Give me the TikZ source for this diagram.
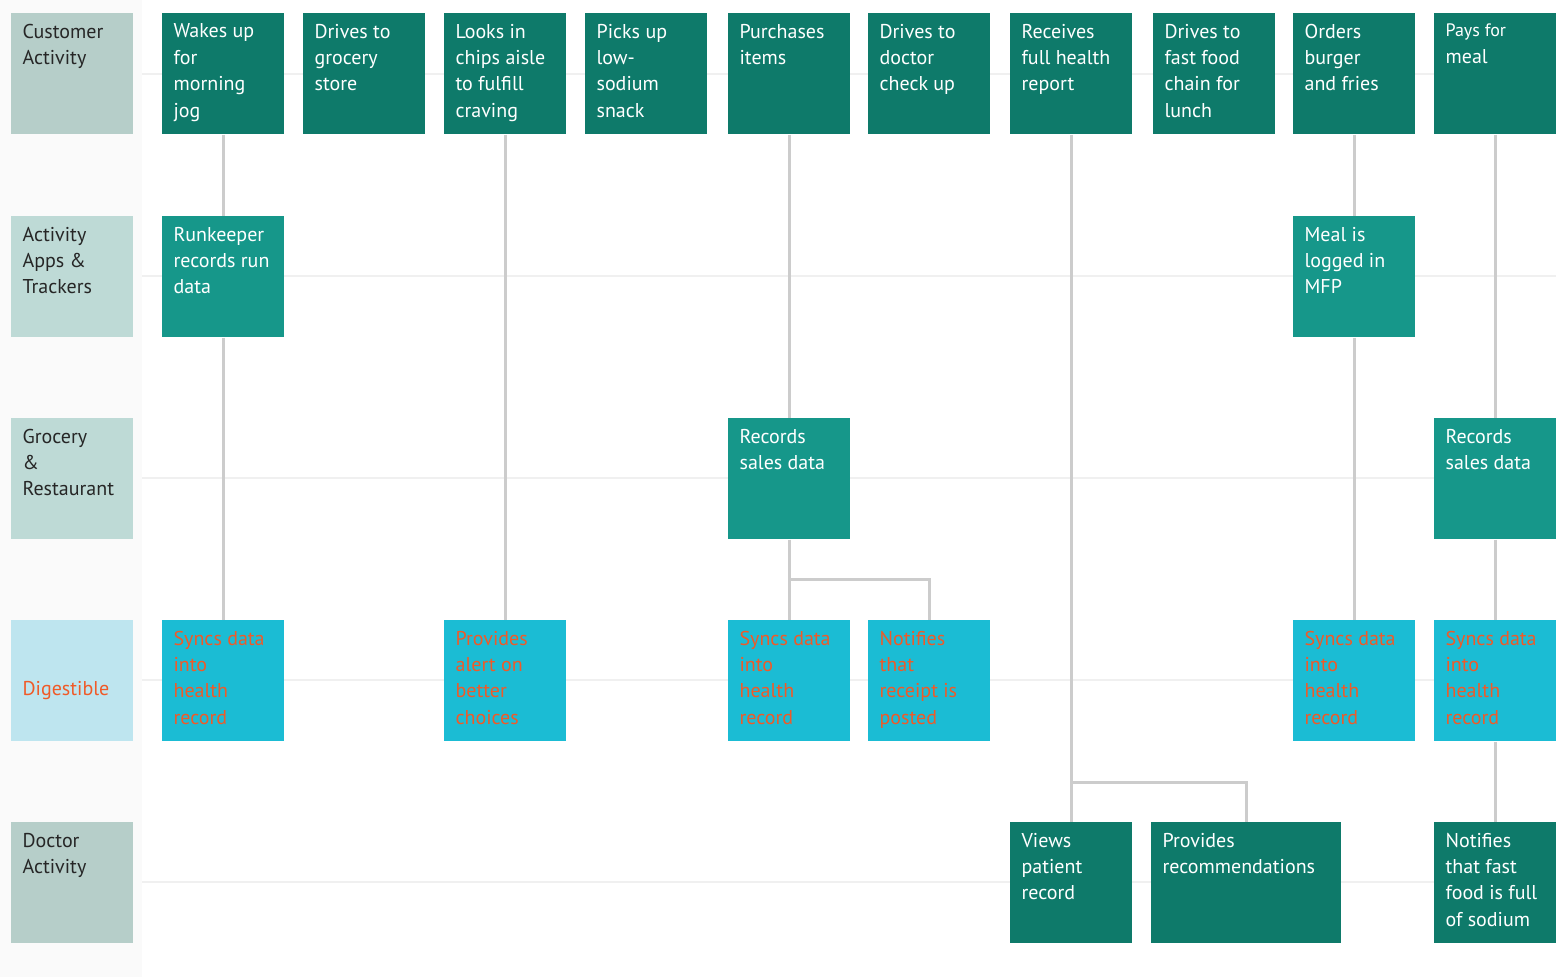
\documentclass[tikz,border=0pt]{standalone}
\usepackage{fontspec}
\setmainfont{PT Sans}
\usetikzlibrary{positioning}
\definecolor{darkteal}{HTML}{0E7A6A}
\definecolor{midteal}{HTML}{16978A}
\definecolor{cyanbox}{HTML}{1BBCD4}
\definecolor{orangetxt}{HTML}{F05A28}
\definecolor{lanedark}{HTML}{B6CEC9}
\definecolor{lanelight}{HTML}{BEDAD6}
\definecolor{lanecyan}{HTML}{BEE5EF}
\definecolor{wire}{HTML}{CCCCCC}
\tikzset{
  px/.style={x=0.75pt,y=-0.75pt},
  cell/.style={anchor=north west,inner sep=0pt,minimum height=90.75pt,minimum width=91.5pt},
  txt/.style={anchor=north west,inner sep=0pt,align=left,font=\fontsize{15}{19.8}\selectfont},
  link/.style={draw=wire,line width=2.2pt}
}
% \stage{name}{x}{y}{fill}{text colour}{text}
\newcommand{\stage}[6]{%
  \node[cell,fill=#4] (#1) at (#2,#3) {};
  \node[txt,text=#5] (#1-t) at ([xshift=8.5pt,yshift=-8pt]#1.north west) {#6};}
\begin{document}
\begin{tikzpicture}[px]
  \useasboundingbox (0,0) rectangle (1556,977);
  % Hintergrund und Spuren
  \fill[black!2] (0,0) rectangle (142,977);
  \foreach \yy in {74,276,478,680,882}
    \draw[black!6,line width=2pt] (142,\yy) -- (1556,\yy);
  % Spurbeschriftungen
  \stage{l1}{11}{13}{lanedark}{black!85}{Customer\\Activity}
  \stage{l2}{11}{216}{lanelight}{black!85}{Activity\\Apps \&\\Trackers}
  \stage{l3}{11}{418}{lanelight}{black!85}{Grocery\\\&\\Restaurant}
  \node[cell,fill=lanecyan] (l4) at (11,620) {};
  \node[txt,text=orangetxt] (l4-t) at ([xshift=8.5pt]l4.west) {Digestible};
  \stage{l5}{11}{822}{lanedark}{black!85}{Doctor\\Activity}
  % Kunde
  \stage{c1}{162}{13}{darkteal}{white}{Wakes up\\for\\morning\\jog}
  \stage{c2}{303}{13}{darkteal}{white}{Drives to\\grocery\\store}
  \stage{c3}{444}{13}{darkteal}{white}{Looks in\\chips aisle\\to fulfill\\craving}
  \stage{c4}{585}{13}{darkteal}{white}{Picks up\\low-\\sodium\\snack}
  \stage{c5}{728}{13}{darkteal}{white}{Purchases\\items}
  \stage{c6}{868}{13}{darkteal}{white}{Drives to\\doctor\\check up}
  \stage{c7}{1010}{13}{darkteal}{white}{Receives\\full health\\report}
  \stage{c8}{1153}{13}{darkteal}{white}{Drives to\\fast food\\chain for\\lunch}
  \stage{c9}{1293}{13}{darkteal}{white}{Orders\\burger\\and fries}
  \stage{c10}{1434}{13}{darkteal}{white}{\fontsize{13.5}{17.5}\selectfont Pays for\\meal}
  % Apps
  \stage{a1}{162}{216}{midteal}{white}{Runkeeper\\records run\\data}
  \stage{a9}{1293}{216}{midteal}{white}{Meal is\\logged in\\MFP}
  % Handel
  \stage{g5}{728}{418}{midteal}{white}{Records\\sales data}
  \stage{g10}{1434}{418}{midteal}{white}{Records\\sales data}
  % Digestible
  \stage{d1}{162}{620}{cyanbox}{orangetxt}{Syncs data\\into\\health\\record}
  \stage{d3}{444}{620}{cyanbox}{orangetxt}{Provides\\alert on\\better\\choices}
  \stage{d5}{728}{620}{cyanbox}{orangetxt}{Syncs data\\into\\health\\record}
  \stage{d6}{868}{620}{cyanbox}{orangetxt}{Notifies\\that\\receipt is\\posted}
  \stage{d9}{1293}{620}{cyanbox}{orangetxt}{Syncs data\\into\\health\\record}
  \stage{d10}{1434}{620}{cyanbox}{orangetxt}{Syncs data\\into\\health\\record}
  % Arzt
  \stage{r7}{1010}{822}{darkteal}{white}{Views\\patient\\record}
  \node[cell,fill=darkteal,minimum width=142.5pt] (r8) at (1151,822) {};
  \node[txt,text=white] (r8-t) at ([xshift=8.5pt,yshift=-8pt]r8.north west) {Provides\\recommendations};
  \stage{r10}{1434}{822}{darkteal}{white}{Notifies\\that fast\\food is full\\of sodium}
  % Verbindungen
  \begin{scope}[on background layer/.try]
  \end{scope}
  \draw[link] (c1) -- (a1);
  \draw[link] (a1) -- (d1);
  \draw[link] (c3) -- (d3);
  \draw[link] (c5) -- (g5);
  \draw[link] (g5) -- (d5);
  \draw[link] (g5.south) -- ++(0,40) coordinate (k5) -| (d6.north);
  \draw[link] (c7) -- (r7);
  \draw[link] (c7.south) ++(0,648) coordinate (k7) -| (r8.north);
  \draw[link] (c9) -- (a9);
  \draw[link] (a9) -- (d9);
  \draw[link] (c10) -- (g10);
  \draw[link] (g10) -- (d10);
  \draw[link] (d10) -- (r10);
\end{tikzpicture}
\end{document}
